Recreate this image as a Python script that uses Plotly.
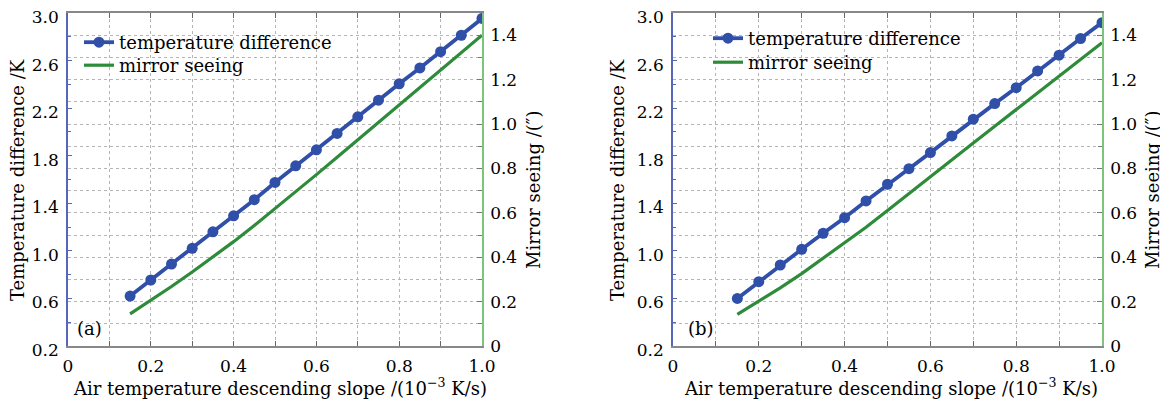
import plotly.graph_objects as go

# ---- data ----
slope = [0.15, 0.20, 0.25, 0.30, 0.35, 0.40, 0.45, 0.50, 0.55, 0.60,
         0.65, 0.70, 0.75, 0.80, 0.85, 0.90, 0.95, 1.00]
temp_diff_a = [0.62, 0.755, 0.889, 1.021, 1.16, 1.295, 1.43, 1.575, 1.715, 1.85,
               1.987, 2.127, 2.267, 2.405, 2.538, 2.675, 2.813, 2.954]
seeing_a = [0.145, 0.205, 0.268, 0.333, 0.40, 0.47, 0.543, 0.618, 0.695, 0.772,
            0.85, 0.928, 1.007, 1.086, 1.165, 1.244, 1.322, 1.40]
temp_diff_b = [0.60, 0.741, 0.881, 1.013, 1.148, 1.279, 1.42, 1.56, 1.691, 1.826,
               1.966, 2.107, 2.238, 2.372, 2.513, 2.645, 2.785, 2.919]
seeing_b = [0.142, 0.200, 0.262, 0.326, 0.395, 0.466, 0.535, 0.61, 0.685, 0.76,
            0.838, 0.914, 0.99, 1.066, 1.142, 1.217, 1.292, 1.366]

x_ticks = [0, 0.2, 0.4, 0.6, 0.8, 1.0]
x_ticktext = ["0", "0.2", "0.4", "0.6", "0.8", "1.0"]
left_ticks = [0.2, 0.6, 1.0, 1.4, 1.8, 2.2, 2.6, 3.0]
left_ticktext = ["0.2", "0.6", "1.0", "1.4", "1.8", "2.2", "2.6", "3.0"]
right_ticks = [0, 0.2, 0.4, 0.6, 0.8, 1.0, 1.2, 1.4]
right_ticktext = ["0", "0.2", "0.4", "0.6", "0.8", "1.0", "1.2", "1.4"]

# page body has an 8px default margin; work in screen pixels and convert
OFF = 8
W, H = 1168 - OFF, 401 - OFF
FONT = "DejaVu Serif"
BLUE = "#2f4fa8"
GREEN = "#2e8b3a"
GRID = "#b5b5b5"

def px(x):
    return (x - OFF) / W

def py(y):
    return 1 - (y - OFF) / H

fig = go.Figure()

panels = [
    dict(td=temp_diff_a, ms=seeing_a, xa="x", ya="y", ya2="y2",
         lg_td="legend", lg_ms="legend3"),
    dict(td=temp_diff_b, ms=seeing_b, xa="x2", ya="y3", ya2="y4",
         lg_td="legend2", lg_ms="legend4"),
]

for p in panels:
    fig.add_trace(go.Scatter(x=slope, y=p["ms"], mode="lines", name="mirror seeing",
                             line=dict(color=GREEN, width=3.2),
                             xaxis=p["xa"], yaxis=p["ya2"], legend=p["lg_ms"]))
    fig.add_trace(go.Scatter(x=slope, y=p["td"], mode="lines+markers",
                             name="temperature difference",
                             line=dict(color=BLUE, width=3.8),
                             marker=dict(symbol="circle", size=11, color=BLUE),
                             xaxis=p["xa"], yaxis=p["ya"], legend=p["lg_td"]))

tickfont = dict(family=FONT, size=17, color="black")

def xaxis_cfg(dom, anchor):
    return dict(domain=dom, anchor=anchor, range=[0, 1], tickmode="array",
                tickvals=x_ticks, ticktext=x_ticktext, tickfont=tickfont,
                ticks="inside", ticklen=5, tickcolor="#666", showline=True,
                linecolor="#888", linewidth=1.5, mirror="ticks", zeroline=False,
                showgrid=True, gridcolor=GRID, griddash="dot", gridwidth=1,
                ticklabelstandoff=4, automargin=False, ticklabeloverflow="allow",
                minor=dict(tick0=0, dtick=0.1, ticks="inside", ticklen=5,
                           tickcolor="#666", showgrid=True, gridcolor=GRID,
                           griddash="dot", gridwidth=1))

def yleft_cfg(dom, anchor):
    return dict(domain=dom, anchor=anchor, range=[0.2, 3.0], tickmode="array",
                tickvals=left_ticks, ticktext=left_ticktext, tickfont=tickfont,
                ticks="inside", ticklen=4, tickcolor="#5566bb", showline=True,
                linecolor="#5566bb", linewidth=1.5, zeroline=False, showgrid=False,
                ticklabelstandoff=4, ticklabelshift=4, automargin=False,
                ticklabeloverflow="allow",
                minor=dict(tick0=0.2, dtick=0.2, ticks="inside", ticklen=3,
                           tickcolor="#5566bb", showgrid=False))

def yright_cfg(over, anchor):
    return dict(overlaying=over, anchor=anchor, side="right", range=[0, 1.5],
                tickmode="array", tickvals=right_ticks, ticktext=right_ticktext,
                tickfont=tickfont, ticks="inside", ticklen=5, tickcolor="#777",
                showline=True, linecolor="#7cc47c", linewidth=1.5, zeroline=False,
                showgrid=True, gridcolor=GRID, griddash="dot", gridwidth=1,
                ticklabelstandoff=3, automargin=False, ticklabeloverflow="allow",
                minor=dict(tick0=0, dtick=0.1, ticks="inside", ticklen=4,
                           tickcolor="#777", showgrid=True, gridcolor=GRID,
                           griddash="dot", gridwidth=1))

legfont = dict(family=FONT, size=18, color="black")

def leg(x, y):
    return dict(x=px(x), y=py(y), xanchor="left", yanchor="top",
                bgcolor="rgba(0,0,0,0)", borderwidth=0, font=legfont)

fig.update_layout(
    width=W, height=H, autosize=False,
    margin=dict(l=0, r=0, t=0, b=0, pad=0, autoexpand=False),
    paper_bgcolor="white", plot_bgcolor="white",
    font=dict(family=FONT, size=17, color="black"),
    xaxis=xaxis_cfg([px(68), px(482)], "y"),
    yaxis=yleft_cfg([py(346), py(13)], "x"),
    yaxis2=yright_cfg("y", "x"),
    xaxis2=xaxis_cfg([px(673), px(1102)], "y3"),
    yaxis3=yleft_cfg([py(346), py(13)], "x2"),
    yaxis4=yright_cfg("y3", "x2"),
    legend=leg(79, 24),
    legend3=leg(79, 47),
    legend2=leg(708, 20),
    legend4=leg(708, 44),
    showlegend=True,
)

# white boxes behind the legends (hide the grid there, as in the reference)
for (x0, y0, x1, y1) in [(75, 29, 333, 76), (703, 25, 961, 72)]:
    fig.add_shape(type="rect", xref="paper", yref="paper", layer="between",
                  x0=px(x0), x1=px(x1), y0=py(y1), y1=py(y0),
                  fillcolor="white", line=dict(width=0))

xtitle = "Air temperature descending slope /(10<sup>−3</sup> K/s)"
ann = [
    dict(text=xtitle, x=px(280), y=py(387)),
    dict(text=xtitle, x=px(891), y=py(387)),
    dict(text="Temperature difference /K", x=px(17), y=py(180), textangle=-90),
    dict(text="Temperature difference /K", x=px(617), y=py(180), textangle=-90),
    dict(text="Mirror seeing /(″)", x=px(533), y=py(190), textangle=-90),
    dict(text="Mirror seeing /(″)", x=px(1152), y=py(190), textangle=-90),
    dict(text="(a)", x=px(89), y=py(328)),
    dict(text="(b)", x=px(701), y=py(328)),
]
for a in ann:
    fig.add_annotation(xref="paper", yref="paper", showarrow=False,
                       xanchor="center", yanchor="middle",
                       font=dict(family=FONT, size=18, color="black"), **a)

fig.write_html("out.html")
